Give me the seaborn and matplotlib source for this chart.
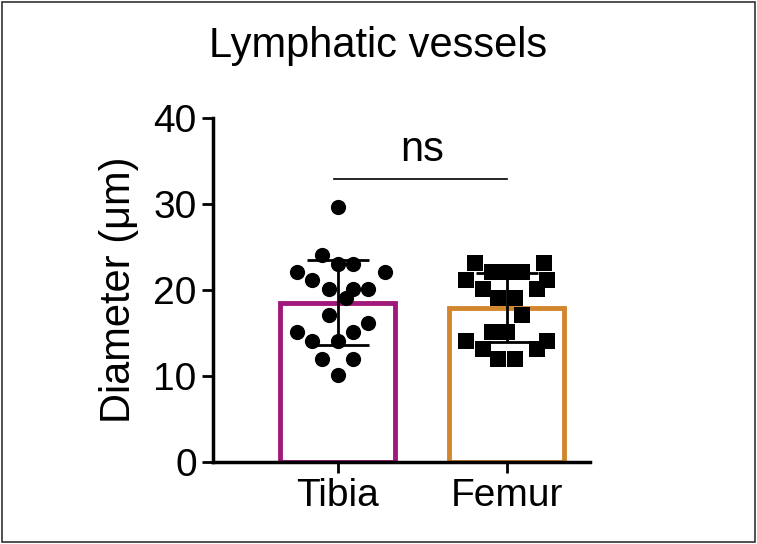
import matplotlib
matplotlib.use("Agg")
import matplotlib.pyplot as plt
import seaborn as sns
import numpy as np
import pandas as pd

plt.rcParams["font.family"] = "Liberation Sans"

categories = ["Tibia", "Femur"]
tibia_values = [29.7, 24.1, 23.0, 23.0, 22.1, 22.1, 21.1, 20.1, 20.1, 20.1,
                19.1, 17.1, 16.1, 15.1, 15.1, 14.1, 14.1, 12.0, 12.0, 10.1]
tibia_offsets = [0, -0.095, 0, 0.09, -0.24, 0.28, -0.15, -0.05, 0.09, 0.18,
                 0.05, -0.05, 0.18, -0.24, 0.09, -0.15, 0, -0.095, 0.09, 0]
femur_values = [23.1, 23.1, 22.1, 22.1, 22.1, 21.2, 21.2, 20.1, 20.1, 19.1,
                19.1, 17.1, 15.1, 15.1, 14.1, 14.1, 13.1, 13.1, 12.0, 12.0]
femur_offsets = [-0.19, 0.22, -0.09, 0, 0.09, -0.24, 0.24, -0.14, 0.18, -0.05,
                 0.05, 0.09, -0.09, 0, -0.24, 0.24, -0.14, 0.18, -0.05, 0.05]
bar_colors = ["#A0197A", "#D2872E"]

df = pd.DataFrame({
    "group": ["Tibia"] * len(tibia_values) + ["Femur"] * len(femur_values),
    "value": tibia_values + femur_values,
})

fig = plt.figure(figsize=(7.57, 5.44), dpi=100)
fig.patches.append(plt.Rectangle((0.003, 0.003), 0.994, 0.994, transform=fig.transFigure,
                                 fill=False, edgecolor="#333333", linewidth=1.2))
ax = fig.add_axes([0.281, 0.151, 0.498, 0.632])

sns.barplot(data=df, x="group", y="value", order=categories, errorbar=None,
            width=0.68, fill=False, ax=ax, linewidth=3.5)
for p, c in zip(ax.patches, bar_colors):
    p.set_edgecolor(c)
    p.set_linewidth(3.5)

for i, (vals, offs, mk) in enumerate([(tibia_values, tibia_offsets, "o"),
                                     (femur_values, femur_offsets, "s")]):
    ax.scatter(np.array(offs) + i, vals, marker=mk, color="black", s=120, zorder=3, linewidths=0)
    m, sd = np.mean(vals), np.std(vals, ddof=1)
    ax.errorbar(i, m, yerr=sd, color="black", capsize=22, capthick=2, elinewidth=2, zorder=4)

ax.plot([-0.02, 1.0], [32.9, 32.9], color="black", lw=1.2)
ax.text(0.5, 34.0, "ns", ha="center", va="bottom", fontsize=30)

ax.set_xlim(-0.74, 1.49)
ax.set_ylim(0, 40)
ax.set_yticks([0, 10, 20, 30, 40])
ax.set_xlabel("")
ax.set_ylabel("Diameter (\u03bcm)", fontsize=30, labelpad=10)
ax.tick_params(labelsize=28, width=2, length=8)
for s in ["top", "right"]:
    ax.spines[s].set_visible(False)
for s in ["left", "bottom"]:
    ax.spines[s].set_linewidth(2.5)
fig.text(0.5, 0.915, "Lymphatic vessels", ha="center", va="center", fontsize=30)
fig.savefig("out.png", dpi=100)
